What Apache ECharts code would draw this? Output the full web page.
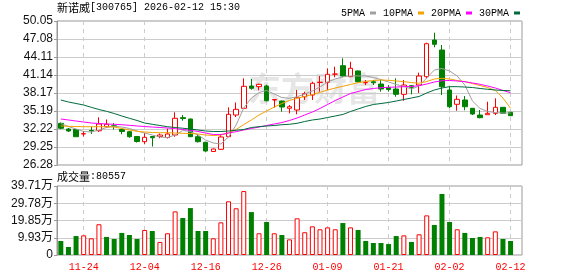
<!DOCTYPE html>
<html><head><meta charset="utf-8">
<script src="https://cdn.jsdelivr.net/npm/echarts@6/dist/echarts.min.js"></script>
<style>html,body{margin:0;padding:0;background:#fff}#c{width:578px;height:276px}</style>
</head><body><div id="c"></div>
<script>
const stockName = '新诺威';
const stockInfo = '[300765] 2026-02-12 15:30';
const volumeName = '成交量';
const volumeInfo = ':80557';
const dates = ['11-19','11-20','11-21','11-24','11-25','11-26','11-27','11-28','12-01','12-02','12-03','12-04','12-05','12-08','12-09','12-10','12-11','12-12','12-15','12-16','12-17','12-18','12-19','12-22','12-23','12-24','12-25','12-26','12-29','12-30','12-31','01-05','01-06','01-07','01-08','01-09','01-12','01-13','01-14','01-15','01-16','01-19','01-20','01-21','01-22','01-23','01-26','01-27','01-28','01-29','01-30','02-02','02-03','02-04','02-05','02-06','02-09','02-10','02-11','02-12'];
const labeledDates = ['11-24','12-04','12-16','12-26','01-09','01-21','02-02','02-12'];
const opens = [33.16,32.22,32.14,31.40,31.98,31.94,32.60,32.75,32.14,31.78,30.98,30.13,30.98,30.98,30.82,31.23,34.10,33.87,30.95,30.03,28.51,28.87,30.95,34.53,35.64,39.32,39.21,39.32,37.01,36.84,35.64,35.36,37.55,37.83,39.90,39.93,41.27,42.67,40.86,41.80,39.86,40.01,39.65,39.07,38.82,37.95,39.37,39.48,40.86,46.91,45.26,38.66,36.30,37.01,35.64,34.53,34.58,34.81,35.80,34.98];
const closes = [32.34,31.89,30.95,31.45,31.90,33.05,33.00,32.65,31.81,30.95,30.16,30.85,30.78,31.23,31.40,33.99,33.95,30.95,30.13,28.59,28.92,30.90,34.65,35.47,39.27,38.94,39.60,36.89,37.09,35.85,35.90,37.39,38.05,39.77,39.95,41.25,41.30,40.97,42.24,40.03,39.88,39.85,38.82,38.74,37.95,39.48,39.11,40.97,46.30,46.20,39.20,35.90,37.12,35.90,34.70,34.09,34.81,35.80,34.81,34.42];
const lows = [32.17,31.73,30.90,30.98,31.40,31.73,32.44,32.14,31.35,30.78,29.99,29.75,29.33,30.69,30.65,30.95,33.59,30.90,29.99,28.47,28.43,28.79,30.90,34.20,35.57,38.71,38.61,36.79,35.74,35.08,34.81,34.65,37.01,37.01,38.38,38.66,40.76,40.86,40.81,39.90,39.48,39.48,38.38,38.38,37.55,36.89,37.95,38.17,40.56,45.71,37.83,35.64,35.24,35.31,34.53,33.99,34.58,34.53,34.78,34.37];
const highs = [33.29,32.39,32.22,31.89,32.63,34.15,33.79,33.21,32.30,31.89,31.07,31.56,31.07,31.48,32.30,34.98,34.53,33.95,31.35,30.08,29.00,31.40,35.80,36.60,40.59,40.48,39.70,39.53,37.17,36.93,36.18,38.66,38.38,40.03,40.97,42.24,42.51,43.89,43.33,41.88,40.31,40.31,40.31,39.48,40.59,40.31,39.48,41.52,46.47,48.12,46.09,39.21,37.75,37.67,35.69,35.36,36.73,37.29,35.85,35.03];
const volumes = [80600,46000,109000,113000,96000,177000,104000,92000,127000,115000,92000,144000,138000,75000,125000,251000,213000,270000,138000,138000,96000,188000,309000,269000,368000,247000,125000,190000,125000,115000,90000,211000,131000,165000,148000,159000,148000,184000,159000,144000,81000,69000,69000,63000,109000,113000,75000,119000,228000,173000,351000,190000,148000,127000,98000,104000,102000,136000,92000,80557];
const ma5 = [33.13,32.63,32.22,31.81,31.73,32.06,32.47,32.67,32.55,32.31,31.89,31.56,31.23,30.90,30.82,31.23,31.97,31.81,31.23,30.41,29.91,29.75,30.90,32.88,35.69,37.34,38.25,38.58,38.00,37.42,37.29,37.55,38.00,38.50,39.16,39.98,40.48,40.81,40.98,40.98,40.98,40.72,40.39,39.98,39.57,39.24,38.82,39.32,40.64,41.96,42.21,41.80,40.97,39.48,36.84,35.61,35.11,34.94,34.86,34.86];
const ma10 = [32.72,32.67,32.63,32.60,32.60,32.60,32.60,32.55,32.31,32.06,31.84,31.73,31.64,31.61,31.61,31.56,31.51,31.48,31.40,31.23,31.15,31.23,31.56,32.14,32.96,33.71,34.53,35.19,35.85,36.43,36.93,37.29,37.59,37.92,38.28,38.66,38.99,39.27,39.57,39.87,40.06,40.23,40.31,40.26,40.15,40.03,39.90,39.77,40.06,40.48,40.59,40.48,40.23,40.03,39.73,39.40,39.07,38.58,37.34,35.64];
const ma20 = [33.87,33.71,33.54,33.38,33.21,33.13,33.05,33.00,32.93,32.83,32.72,32.63,32.55,32.47,32.39,32.27,32.14,32.01,31.81,31.56,31.31,31.31,31.56,31.78,32.06,32.31,32.55,32.80,33.05,33.29,33.63,34.04,34.53,35.03,35.61,36.27,36.93,37.50,38.08,38.41,38.74,38.91,39.04,39.11,39.15,39.21,39.24,39.37,39.65,39.98,40.19,40.23,40.15,40.03,39.82,39.60,39.32,38.99,38.58,38.21];
const ma30 = [37.01,36.68,36.43,36.18,35.80,35.44,35.14,34.78,34.37,33.99,33.63,33.21,33.00,32.80,32.60,32.47,32.35,32.22,32.06,31.89,31.81,31.81,31.89,32.01,32.14,32.47,32.60,32.72,32.80,32.93,33.00,33.16,33.46,33.71,33.87,34.12,34.37,34.62,35.11,35.53,35.94,36.27,36.43,36.60,36.84,37.09,37.34,37.59,38.17,38.66,38.99,39.21,39.21,39.15,39.07,38.91,38.78,38.66,38.58,38.54];
const priceTickLabels = ['26.28','29.25','32.22','35.19','38.17','41.14','44.11','47.08','50.05'];
const volumeTickLabels = ['0','9.93万','19.85万','29.78万','39.71万'];
const maNames = ['5PMA','10PMA','20PMA','30PMA'];

const priceMin = 26.28, priceMax = 50.05, volMax = 397100, volStep = 99275;
const RED = '#ff0000', GREEN = '#008000';
const maColors = ['#a0a0a0', '#f5a300', '#ff00ff', '#006b3c'];

const cats = dates.concat(['']);
const candleData = dates.map((d, i) => [opens[i], closes[i], lows[i], highs[i]]);
const volData = volumes.map((v, i) => {
  const up = i === 0 ? closes[i] >= opens[i] : closes[i] >= closes[i - 1];
  return { value: v, itemStyle: up ? { color: '#ffffff', borderColor: RED, borderWidth: 1 } : { color: GREEN } };
});
const isLabeled = (idx, val) => labeledDates.indexOf(val) >= 0;
const vSplit = { show: true, alignWithLabel: true, interval: isLabeled, lineStyle: { color: '#cccccc', type: [4, 4], width: 1 } };
const titleRich = {
  c: { fontSize: 11, fontFamily: '"Noto Sans CJK SC"', fill: '#000', color: '#000' },
  a: { fontSize: 10, fontFamily: '"Liberation Mono"', fill: '#000', color: '#000' }
};

const chart = echarts.init(document.getElementById('c'), null, { renderer: 'canvas' });
chart.setOption({
  animation: false,
  backgroundColor: '#ffffff',
  legend: {
    data: maNames, left: 336, top: 3, icon: 'rect', itemWidth: 6, itemHeight: 3, itemGap: 7, align: 'right',
    textStyle: { fontSize: 10, fontFamily: 'Liberation Mono', color: '#000' }
  },
  graphic: [
    { type: 'text', left: 57, top: 2, style: { text: '{c|' + stockName + '}{a|' + stockInfo + '}', rich: titleRich } },
    { type: 'text', left: 57, top: 171, style: { text: '{c|' + volumeName + '}{a|' + volumeInfo + '}', rich: titleRich } },
    { type: 'text', left: 248, top: 72, z: -10, style: { text: '东方财富', fontSize: 33, fontWeight: 'bold', fontFamily: '"Noto Sans CJK SC"', fill: '#e6e6e6' } }
  ],
  grid: [
    { left: 57, right: 56, top: 21, height: 144, show: true, borderColor: '#999999', borderWidth: 1 },
    { left: 57, right: 56, top: 186, height: 69, show: true, borderColor: '#999999', borderWidth: 1 }
  ],
  xAxis: [
    { type: 'category', gridIndex: 0, data: cats, axisLine: { show: false }, axisTick: { show: false }, axisLabel: { show: false }, splitLine: vSplit },
    { type: 'category', gridIndex: 1, data: cats, axisLine: { show: false }, axisTick: { show: false },
      axisLabel: { interval: isLabeled, color: RED, fontSize: 10, fontFamily: 'Liberation Mono', margin: 7 }, splitLine: vSplit }
  ],
  yAxis: [
    { type: 'value', gridIndex: 0, min: priceMin, max: priceMax, position: 'right', show: false },
    { type: 'value', gridIndex: 0, min: 0, max: priceTickLabels.length - 1, interval: 1, position: 'left',
      axisLine: { show: true, lineStyle: { color: '#999999' } }, axisTick: { show: true, length: 3, lineStyle: { color: '#999999' } },
      axisLabel: { formatter: v => priceTickLabels[Math.round(v)], color: '#111', fontSize: 12, fontFamily: 'Liberation Sans', margin: 4 },
      splitLine: { lineStyle: { color: '#cccccc' } } },
    { type: 'value', gridIndex: 1, min: 0, max: volMax, interval: volStep, position: 'left',
      axisLine: { show: true, lineStyle: { color: '#999999' } }, axisTick: { show: true, length: 3, lineStyle: { color: '#999999' } },
      axisLabel: { formatter: v => volumeTickLabels[Math.round(v / volStep)], color: '#111', fontSize: 12, fontFamily: 'Liberation Sans, "Noto Sans CJK SC"', margin: 4 },
      splitLine: { lineStyle: { color: '#cccccc' } } }
  ],
  series: [
    { type: 'candlestick', name: 'K', xAxisIndex: 0, yAxisIndex: 0, data: candleData, barWidth: 5,
      itemStyle: { color: '#ffffff', color0: GREEN, borderColor: RED, borderColor0: GREEN, borderWidth: 1 } },
    ...[ma5, ma10, ma20, ma30].map((arr, k) => ({
      type: 'line', name: maNames[k], xAxisIndex: 0, yAxisIndex: 0, data: arr, symbol: 'none', showSymbol: false,
      itemStyle: { color: maColors[k] }, lineStyle: { color: maColors[k], width: 1 }
    })),
    { type: 'bar', name: 'VOL', xAxisIndex: 1, yAxisIndex: 2, data: volData, barWidth: 5 }
  ]
});
</script></body></html>
